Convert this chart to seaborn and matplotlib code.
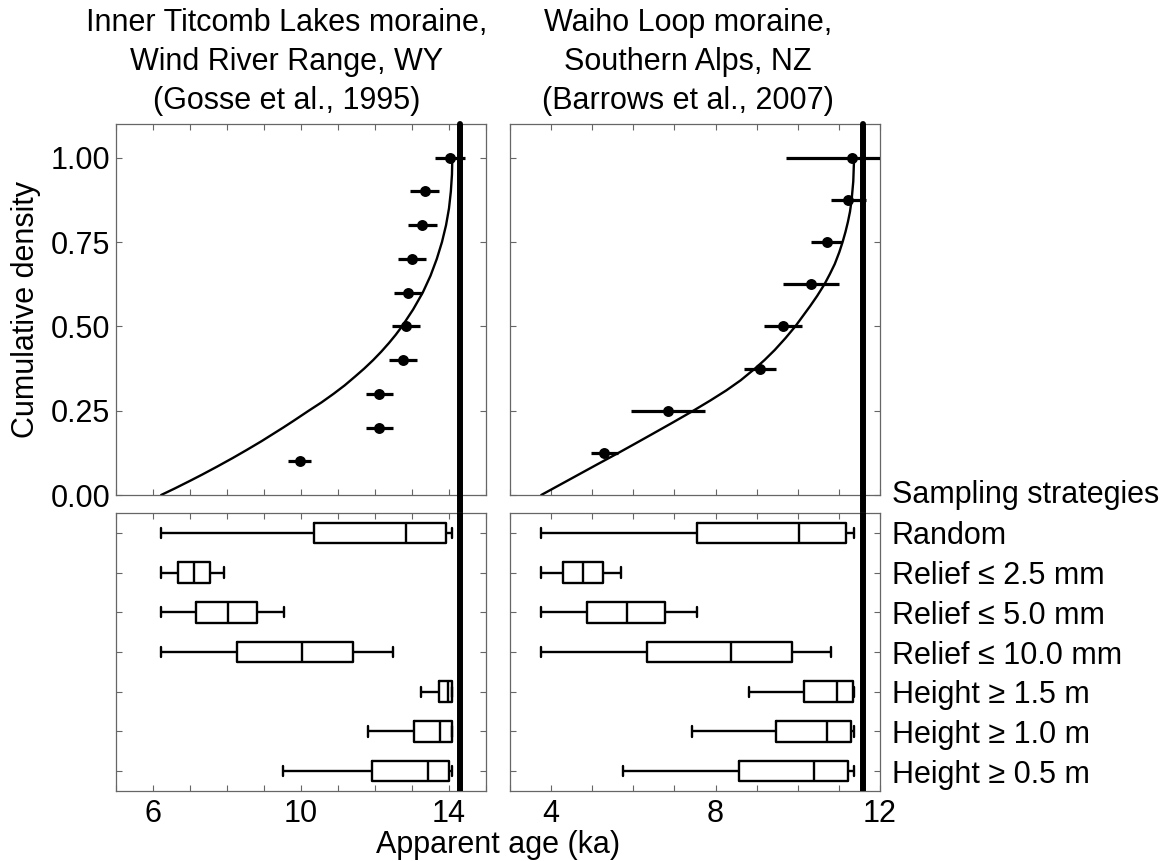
import numpy as np
import pandas as pd
import matplotlib
matplotlib.use("Agg")
import matplotlib.pyplot as plt
import seaborn as sns
from matplotlib.ticker import FixedLocator, FuncFormatter

# ---------------- data ----------------
left_title = "Inner Titcomb Lakes moraine,\nWind River Range, WY\n(Gosse et al., 1995)"
right_title = "Waiho Loop moraine,\nSouthern Alps, NZ\n(Barrows et al., 2007)"

strategies = ["Random", "Relief \u2264 2.5 mm", "Relief \u2264 5.0 mm", "Relief \u2264 10.0 mm",
              "Height \u2265 1.5 m", "Height \u2265 1.0 m", "Height \u2265 0.5 m"]

# measured samples (apparent age, ka) and cumulative position
left_cum = [0.1, 0.2, 0.3, 0.4, 0.5, 0.6, 0.7, 0.8, 0.9, 1.0]
left_age = [9.96, 12.12, 12.12, 12.76, 12.83, 12.89, 13.00, 13.28, 13.34, 14.03]
left_err = [0.31, 0.37, 0.37, 0.38, 0.38, 0.39, 0.38, 0.40, 0.40, 0.41]

right_cum = [0.125, 0.25, 0.375, 0.5, 0.625, 0.75, 0.875, 1.0]
right_age = [5.29, 6.84, 9.08, 9.64, 10.32, 10.70, 11.23, 11.33]
right_err = [0.33, 0.90, 0.40, 0.46, 0.69, 0.38, 0.42, 1.61]

# model cumulative curves
left_curve_y = [0.00, 0.02, 0.042, 0.06, 0.084, 0.11, 0.134, 0.16, 0.20, 0.22, 0.25, 0.275,
                0.30, 0.325, 0.352, 0.375, 0.40, 0.425, 0.451, 0.475, 0.50, 0.55, 0.60, 0.65,
                0.70, 0.75, 0.80, 0.85, 0.90, 0.95, 1.00]
left_curve_x = [6.22, 6.60, 7.00, 7.32, 7.73, 8.16, 8.54, 8.94, 9.52, 9.80, 10.21, 10.56,
                10.88, 11.18, 11.47, 11.71, 11.95, 12.17, 12.38, 12.56, 12.73, 13.03, 13.29, 13.50,
                13.67, 13.81, 13.92, 14.00, 14.05, 14.08, 14.09]

right_curve_y = [0.0, 0.03, 0.06, 0.09, 0.125, 0.15, 0.18, 0.215, 0.25, 0.28, 0.31, 0.34,
                 0.375, 0.40, 0.43, 0.465, 0.5, 0.53, 0.56, 0.59, 0.625, 0.655, 0.685, 0.72,
                 0.75, 0.78, 0.81, 0.84, 0.875, 0.93, 1.0]
right_curve_x = [3.76, 4.21, 4.66, 5.11, 5.64, 6.01, 6.45, 6.96, 7.46, 7.87, 8.26, 8.61,
                 8.96, 9.19, 9.44, 9.70, 9.94, 10.12, 10.30, 10.47, 10.65, 10.78, 10.90, 11.01,
                 11.09, 11.16, 11.22, 11.27, 11.31, 11.35, 11.37]

# true (deposition) age
left_true_age = 14.30
right_true_age = 11.58

# box stats per strategy: whisker low, Q1, median, Q3, whisker high
left_lo = [6.22, 6.22, 6.22, 6.22, 13.25, 11.81, 9.50]
left_q1 = [10.34, 6.67, 7.16, 8.27, 13.72, 13.05, 11.93]
left_med = [12.85, 7.11, 8.02, 10.02, 13.96, 13.75, 13.44]
left_q3 = [13.91, 7.54, 8.82, 11.41, 14.08, 14.07, 14.00]
left_hi = [14.07, 7.93, 9.55, 12.49, 14.09, 14.09, 14.09]

right_lo = [3.76, 3.76, 3.76, 3.76, 8.81, 7.43, 5.75]
right_q1 = [7.55, 4.30, 4.87, 6.34, 10.16, 9.47, 8.58]
right_med = [10.02, 4.78, 5.85, 8.38, 10.95, 10.71, 10.40]
right_q3 = [11.18, 5.25, 6.78, 9.87, 11.35, 11.29, 11.22]
right_hi = [11.37, 5.70, 7.55, 10.82, 11.37, 11.37, 11.37]

left_xlim = (5, 15)
right_xlim = (3, 12)
left_ticklabels = [6, 10, 14]
right_ticklabels = [4, 8, 12]
yticks_cum = [0.0, 0.25, 0.5, 0.75, 1.0]

# ---------------- style ----------------
sns.set_theme(style="ticks")
plt.rcParams["font.family"] = ["Liberation Sans", "DejaVu Sans"]
FS = 22
plt.rcParams.update({"font.size": FS, "text.color": "black", "axes.labelcolor": "black",
                     "xtick.color": "black", "ytick.color": "black"})
SPINE = "#666666"

W, H = 1166, 861
fig = plt.figure(figsize=(W / 100, H / 100), dpi=100)


def frac(l, t, r, b):
    return [l / W, 1 - b / H, (r - l) / W, (b - t) / H]


ax_tl = fig.add_axes(frac(116, 124, 486, 495))
ax_tr = fig.add_axes(frac(510, 124, 880, 495))
ax_bl = fig.add_axes(frac(116, 513, 486, 791))
ax_br = fig.add_axes(frac(510, 513, 880, 791))


def box_df(lo, q1, med, q3, hi):
    rows = []
    for s, a, b, c, d, e in zip(strategies, lo, q1, med, q3, hi):
        for v in (a, b, c, d, e):
            rows.append({"strategy": s, "age": v})
    return pd.DataFrame(rows)


def style_axes(ax, xlim, labels, show_xlabels):
    ax.set_xlim(*xlim)
    ax.xaxis.set_major_locator(FixedLocator(np.arange(xlim[0], xlim[1] + 1)))
    ax.xaxis.set_major_formatter(FuncFormatter(
        lambda v, p: f"{int(round(v))}" if (show_xlabels and int(round(v)) in labels) else ""))
    for sp in ax.spines.values():
        sp.set_color(SPINE)
        sp.set_linewidth(0.9)
    ax.tick_params(axis="both", which="both", direction="in", length=4, width=0.8,
                   color=SPINE, top=True, bottom=True, left=True, right=True,
                   labelsize=FS, labelcolor="black")
    ax.tick_params(axis="x", pad=6)
    ax.set_xlabel("")
    ax.set_ylabel("")
    ax.grid(False)


for ax, cx, cy, age, cum, err, xlim, labels, truth in [
        (ax_tl, left_curve_x, left_curve_y, left_age, left_cum, left_err, left_xlim, left_ticklabels, left_true_age),
        (ax_tr, right_curve_x, right_curve_y, right_age, right_cum, right_err, right_xlim, right_ticklabels, right_true_age)]:
    curve = pd.DataFrame({"x": cx, "y": cy})
    sns.lineplot(data=curve, x="x", y="y", sort=False, estimator=None, color="black",
                 linewidth=1.7, ax=ax)
    ax.errorbar(age, cum, xerr=err, fmt="none", ecolor="black", elinewidth=2.3, capsize=0, zorder=3)
    pts = pd.DataFrame({"age": age, "cum": cum})
    sns.scatterplot(data=pts, x="age", y="cum", color="black", s=62, edgecolor="black",
                    linewidth=0, ax=ax, zorder=4)
    ax.axvline(truth, ymin=-0.05, ymax=1, color="black", linewidth=4.3, clip_on=False, zorder=5)
    ax.set_ylim(0, 1.1)
    ax.set_yticks(yticks_cum)
    style_axes(ax, xlim, labels, False)

ax_tl.set_yticklabels([f"{v:.2f}" for v in yticks_cum])
ax_tl.tick_params(axis="y", pad=4)
ax_tr.tick_params(axis="y", labelleft=False)

ax_tl.set_title(left_title, fontsize=FS, x=0.462, pad=11, linespacing=1.38, color="black")
ax_tr.set_title(right_title, fontsize=FS, x=0.481, pad=11, linespacing=1.38, color="black")

for ax, lo, q1, med, q3, hi, xlim, labels, truth in [
        (ax_bl, left_lo, left_q1, left_med, left_q3, left_hi, left_xlim, left_ticklabels, left_true_age),
        (ax_br, right_lo, right_q1, right_med, right_q3, right_hi, right_xlim, right_ticklabels, right_true_age)]:
    df = box_df(lo, q1, med, q3, hi)
    sns.boxplot(data=df, x="age", y="strategy", order=strategies, orient="h",
                whis=(0, 100), fill=False, color="black", linewidth=1.7, width=0.52, ax=ax)
    ax.axvline(truth, color="black", linewidth=4.3, zorder=5)
    ax.set_ylim(6.5, -0.5)
    style_axes(ax, xlim, labels, True)

ax_bl.tick_params(axis="y", labelleft=False)
ax_br.tick_params(axis="y", labelleft=False, labelright=True, pad=8.6)

ax_tr.annotate("Sampling strategies", xy=(1, 0), xycoords="axes fraction",
               xytext=(8.6, 0), textcoords="offset points", ha="left", va="center",
               fontsize=FS, annotation_clip=False, color="black")

fig.text(26 / W, 1 - 310 / H, "Cumulative density", rotation=90, ha="center", va="center",
         fontsize=FS, color="black")
fig.text(498 / W, 1 - 845 / H, "Apparent age (ka)", ha="center", va="center", fontsize=FS,
         color="black")

fig.savefig("out.png", dpi=100)
